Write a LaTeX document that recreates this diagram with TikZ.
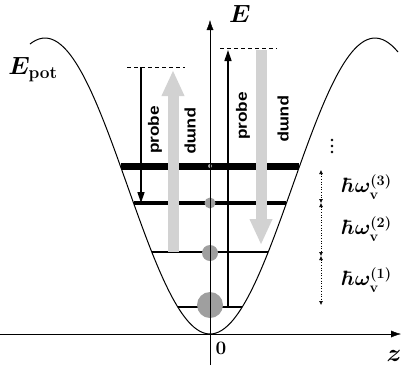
\documentclass[tikz,border=0pt]{standalone}
\usepackage{amsmath}
\usepackage{fontspec}
\newfontfamily\beamfont{Liberation Sans}
\usetikzlibrary{arrows.meta}
\tikzset{
  vlevel/.style={black},
  pumpbeam/.style={line width=11pt, gray!35, -{Triangle[width=21pt,length=26pt]}},
  probebeam/.style={line width=1.4pt, -{Triangle[width=7pt,length=11pt]}},
  blob/.style={fill=gray!75, draw=none},
  quantum/.style={dotted, line width=0.6pt, {Latex[length=4pt,width=4pt]}-{Latex[length=4pt,width=4pt]}},
  beamlabel/.style={font=\beamfont\bfseries\fontsize{15}{15}\selectfont, inner sep=0pt},
  mathlabel/.style={font=\fontsize{23}{26}\selectfont\boldmath, inner sep=0pt},
  quantumlabel/.style={font=\fontsize{21}{24}\selectfont\boldmath, inner sep=0pt}
}

\begin{document}
\begin{tikzpicture}[x=1pt, y=-1pt]
\useasboundingbox (0,0) rectangle (403,367);
\draw[line width=1pt] plot[domain=-180:188, samples=120, smooth]
  ({210+\x}, {334-296*pow(sin(\x/330*180),2)});
\draw[vlevel, line width=1.2pt] (178,307) -- (242,307);
\draw[vlevel, line width=1.2pt] (152,252) -- (268,252);
\draw[vlevel, line width=3.5pt] (134,203) -- (286,203);
\draw[vlevel, line width=7pt] (121,166) -- (299,166);
\filldraw[blob] (210,305) circle (13);
\filldraw[blob] (210,253) circle (8);
\filldraw[blob] (210,203) circle (5.5);
\filldraw[blob] (210,166) circle (2);
\coordinate (lpump0) at (173,252);
\coordinate (lpump1) at (173,70);
\coordinate (rpump0) at (261,50);
\coordinate (rpump1) at (261,245);
\draw[pumpbeam] (lpump0) -- (lpump1);
\draw[pumpbeam] (rpump0) -- (rpump1);
\coordinate (zstart) at (0,334);
\coordinate (zend) at (401,334);
\coordinate (Estart) at (210,365);
\coordinate (Eend) at (210,20);
\draw[-{Latex[length=10pt,width=7pt]}] (zstart) -- (zend);
\draw[-{Latex[length=10pt,width=7pt]}] (Estart) -- (Eend);
\coordinate (lprobe0) at (141,67);
\coordinate (lprobe1) at (141,203);
\coordinate (rprobe0) at (228,307);
\coordinate (rprobe1) at (228,50);
\draw[probebeam] (lprobe0) -- (lprobe1);
\draw[probebeam] (rprobe0) -- (rprobe1);
\draw[dashed, dash pattern=on 4pt off 3pt] (127,67) -- (185,67);
\draw[dashed, dash pattern=on 4pt off 3pt] (220,48) -- (277,48);
\coordinate (q0) at (321,170);
\coordinate (q1) at (321,203);
\coordinate (q2) at (321,256);
\coordinate (q3) at (321,305);
\draw[quantum] (q0) -- (q1);
\draw[quantum] (q1) -- (q2);
\draw[quantum] (q2) -- (q3);
\filldraw (332,140) circle (1.2) (332,146) circle (1.2) (332,152) circle (1.2);
\node[beamlabel, rotate=90] (lprobe) at (155,130) {\scalebox{1.15}[1]{probe}};
\node[beamlabel, rotate=-90] (lpump) at (190,131) {\scalebox{1.15}[1]{pump}};
\node[beamlabel, rotate=90] (rprobe) at (243,116) {\scalebox{1.15}[1]{probe}};
\node[beamlabel, rotate=-90] (rpump) at (283,119) {\scalebox{1.15}[1]{pump}};
\node[mathlabel] (Epot) at (33,70) {$E_{\mathbf{pot}}$};
\node[mathlabel] (E) at (240,14) {$E$};
\node[mathlabel] (z) at (394,356) {$z$};
\node[mathlabel, font=\fontsize{19}{19}\selectfont\bfseries] (zero) at (221,348) {0};
\node[quantumlabel] (hw3) at (367,187) {$\hbar\omega_{\mathbf{v}}^{(3)}$};
\node[quantumlabel] (hw2) at (367,229) {$\hbar\omega_{\mathbf{v}}^{(2)}$};
\node[quantumlabel] (hw1) at (367,280) {$\hbar\omega_{\mathbf{v}}^{(1)}$};
\end{tikzpicture}
\end{document}
